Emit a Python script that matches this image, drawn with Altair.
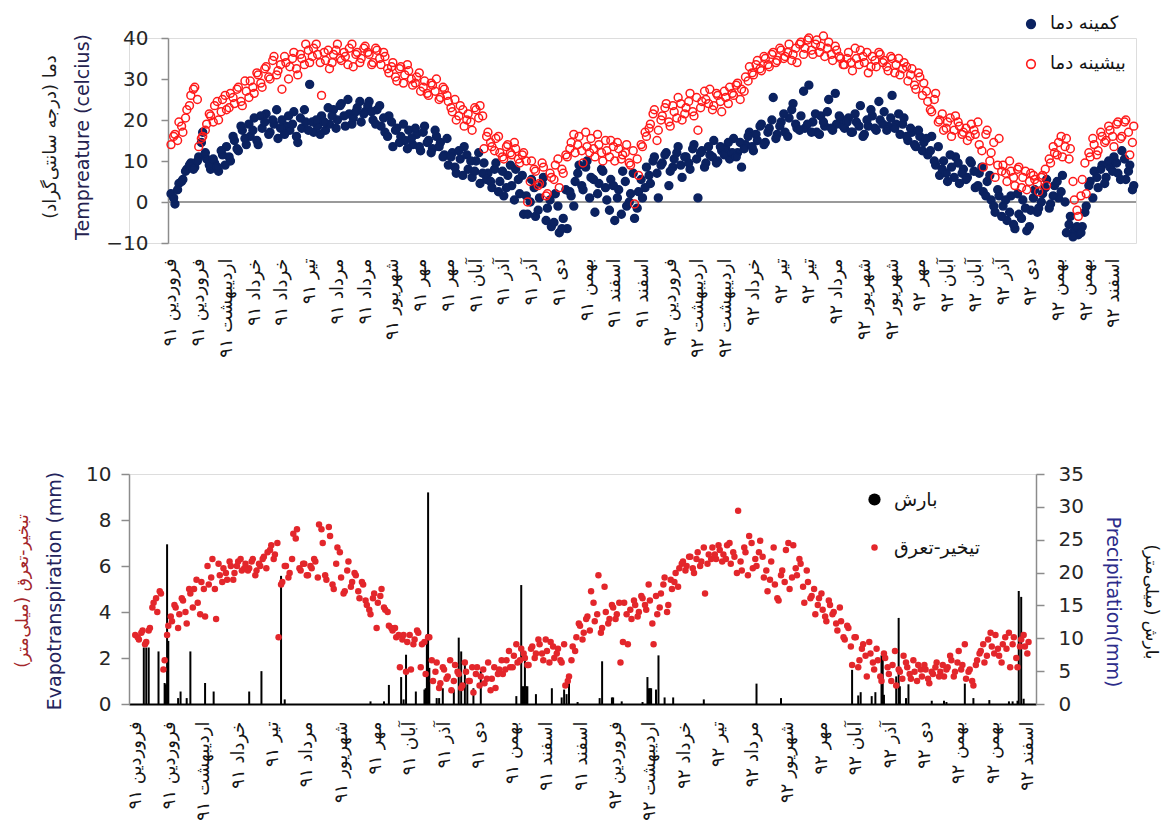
import json

import altair as alt
import pandas as pd

# Daily series, day 0 = 1 Farvardin 1391.  Each quantity is kept as two
# interleaved samplings: *_0 on days 0, 3, 6, ... and *_2 on days 2, 5, 8, ...
STEP = 3

TMIN_LABEL = "کمینه دما"
TMAX_LABEL = "بیشینه دما"
RAIN_LABEL = "بارش"
ET_LABEL = "تیخیر-تعرق"

# Minimum daily temperature (°C)
tmin_0 = [
    2.0, -0.5, 4.5, 5.5, 8.0, 9.5, 8.5, 11.0, 17.0, 10.5,
    8.0, 9.5, 7.5, 11.5, 13.5, 10.0, 15.0, 12.5, 17.5, 14.0,
    16.0, 20.5, 14.0, 18.0, 21.5, 17.0, 19.0, 15.5, 20.0, 18.5,
    17.5, 22.0, 14.5, 18.0, 19.5, 28.7, 17.0, 18.5, 21.0, 17.5,
    19.0, 22.5, 20.0, 24.0, 18.5, 21.5, 20.5, 23.0, 19.5, 22.0,
    24.5, 20.0, 22.5, 18.5, 17.0, 21.0, 13.5, 18.0, 16.0, 15.0,
    17.5, 14.0, 16.5, 12.5, 18.5, 15.0, 13.0, 16.0, 14.5, 11.5,
    9.0, 12.0, 7.0, 10.5, 13.5, 8.0, 6.0, 10.0, 4.5, 9.5,
    7.0, 3.5, 9.5, 5.0, 1.5, 6.5, 4.0, 8.0, 2.0, -3.0,
    -3.0, 5.5, -3.5, 1.0, 6.0, -1.5, -6.0, 2.0, -7.5, -4.0,
    -6.5, 1.5, 5.0, 9.0, 3.0, 10.0, 6.0, -2.5, 4.5, 7.5,
    0.5, 5.5, -4.5, 3.0, 7.5, -1.0, 2.0, -4.0, 2.5, 1.0,
    8.5, 4.5, 11.0, 1.0, 9.5, 12.0, 7.5, 10.5, 13.5, 6.0,
    11.0, 8.0, 14.0, 1.0, 12.5, 9.5, 11.5, 15.0, 10.0, 12.5,
    13.0, 10.5, 15.5, 12.0, 8.5, 14.0, 17.0, 12.5, 15.0, 19.0,
    14.5, 18.0, 25.5, 16.5, 19.5, 17.0, 20.5, 24.0, 18.0, 21.0,
    18.0, 28.5, 19.5, 17.0, 21.0, 18.5, 25.0, 17.5, 19.0, 20.5,
    18.0, 20.5, 17.0, 19.5, 23.5, 16.5, 18.5, 21.0, 17.5, 20.0,
    22.0, 18.5, 26.0, 19.0, 16.5, 20.5, 15.0, 17.0, 13.5, 16.0,
    14.5, 11.5, 16.0, 9.0, 6.5, 10.0, 5.0, 8.5, 11.0, 4.5,
    8.0, 6.0, 9.5, 3.5, 7.0, 2.5, 5.0, 0.5, -2.5, 1.5,
    -1.0, -4.5, 1.5, -6.5, -3.0, 0.5, -7.0, -2.0, 3.0, -1.5,
    2.0, 5.5, -0.5, 4.0, 1.0, 6.5, -7.5, -3.5, -7.0, -8.0,
    -6.0, -1.0, 5.0, 7.5, 3.5, 9.0, 6.0, 8.5, 11.0, 7.0,
    12.5, 5.5, 9.0, 4.0,
]
tmin_2 = [
    1.0, 3.0, 5.0, 7.5, 9.0, 8.0, 10.0, 14.5, 12.0, 9.0,
    10.5, 8.5, 12.5, 9.0, 11.0, 16.0, 13.0, 18.5, 15.5, 19.0,
    17.5, 15.0, 21.0, 19.5, 16.5, 20.0, 22.5, 18.0, 16.5, 21.0,
    19.0, 16.0, 20.5, 22.5, 17.5, 19.5, 20.0, 16.5, 19.5, 23.0,
    21.0, 18.0, 23.5, 21.0, 25.0, 19.0, 22.0, 24.5, 21.5, 23.5,
    22.0, 19.0, 23.5, 20.5, 16.0, 19.5, 17.5, 14.5, 19.0, 13.0,
    15.5, 18.0, 13.5, 17.0, 14.5, 12.0, 17.5, 13.5, 11.0, 15.5,
    11.0, 8.5, 12.5, 6.5, 11.5, 10.0, 7.5, 12.0, 7.0, 5.5,
    5.0, 8.0, 2.5, 7.5, 3.5, 9.0, 0.5, 5.5, 6.5, 1.5,
    0.0, 3.5, -2.0, 4.5, -4.5, 0.5, -5.0, -1.0, -6.5, 3.0,
    2.5, -1.0, 7.0, 4.0, 8.5, 1.0, 5.5, 2.0, 8.0, 3.5,
    -2.0, 4.0, 1.0, -3.0, 5.0, 0.0, 7.0, -1.5, 5.5, 3.5,
    6.5, 10.0, 7.0, 9.0, 11.5, 4.0, 8.5, 12.0, 9.0, 11.0,
    9.5, 13.0, 10.5, 12.0, 8.5, 13.5, 11.0, 9.5, 13.5, 11.5,
    14.5, 12.0, 11.0, 14.5, 13.0, 16.0, 13.5, 16.5, 18.5, 14.0,
    17.0, 20.0, 15.5, 18.5, 21.5, 16.0, 22.5, 19.0, 17.5, 27.0,
    19.0, 17.0, 21.5, 16.5, 19.5, 22.0, 18.0, 26.5, 21.0, 18.5,
    19.5, 17.0, 21.5, 18.5, 16.0, 20.0, 22.5, 18.0, 24.5, 19.0,
    17.5, 20.5, 18.0, 21.5, 19.0, 16.0, 18.0, 14.0, 17.5, 12.5,
    15.5, 12.5, 10.0, 13.5, 8.0, 7.0, 11.5, 6.0, 9.5, 7.0,
    5.5, 10.0, 7.5, 4.0, 8.5, 1.5, 6.5, -1.0, 3.0, -3.5,
    0.5, -2.5, -5.5, 2.0, -4.0, -1.5, -6.0, 1.0, -2.5, 0.0,
    3.5, -1.5, 1.5, 5.0, 2.5, 0.0, -5.5, -8.5, -6.0, -7.5,
    -2.5, 4.0, 1.0, 6.0, 8.0, 4.5, 10.0, 7.5, 9.5, 5.5,
    10.5, 7.5, 3.0,
]

# Maximum daily temperature (°C)
tmax_0 = [
    14.0, 16.5, 19.5, 17.0, 22.5, 26.0, 28.0, 13.5, 16.0, 19.0,
    21.0, 23.5, 20.0, 25.0, 22.5, 26.5, 24.0, 28.0, 23.5, 27.0,
    29.5, 26.5, 31.0, 28.0, 33.0, 30.0, 35.5, 32.0, 27.5, 34.0,
    33.0, 36.5, 31.0, 35.0, 38.5, 34.0, 37.5, 36.0, 26.0, 34.5,
    32.5, 36.0, 38.5, 34.5, 35.5, 37.5, 33.0, 36.5, 35.0, 38.0,
    36.0, 34.0, 37.0, 33.5, 35.5, 31.5, 34.0, 29.5, 33.0, 31.0,
    32.0, 28.5, 30.5, 27.0, 29.5, 26.0, 28.5, 30.0, 25.5, 27.5,
    24.5, 22.0, 20.0, 23.5, 18.5, 21.5, 17.5, 22.5, 23.5, 13.0,
    17.0, 13.5, 15.5, 12.0, 10.5, 14.0, 11.5, 13.0, 9.5, 12.0,
    0.0, 10.0, 7.5, 4.5, 8.5, 2.0, 6.0, 9.0, 3.5, 7.0,
    11.0, 14.5, 12.0, 16.0, 9.5, 13.5, 15.5, 11.0, 14.0, 10.0,
    12.5, 15.0, 10.0, 13.0, 11.5, 14.0, 9.0, -0.5, 6.5, 13.5,
    16.0, 19.0, 22.5, 17.5, 21.0, 24.0, 18.5, 22.0, 25.5, 20.0,
    23.0, 26.5, 21.0, 17.5, 24.5, 25.0, 27.5, 23.5, 26.0, 22.0,
    25.5, 28.0, 26.0, 29.0, 27.5, 30.5, 33.0, 31.0, 34.5, 32.0,
    35.0, 33.0, 36.5, 34.5, 37.0, 35.5, 38.5, 36.0, 34.0, 39.0,
    37.5, 40.0, 36.0, 39.5, 38.0, 35.5, 39.0, 34.5, 37.0, 35.0,
    33.5, 36.5, 32.0, 35.0, 37.0, 34.0, 31.5, 35.5, 33.0, 36.0,
    34.5, 32.0, 35.0, 33.5, 31.0, 34.0, 29.5, 32.5, 27.5, 30.5,
    29.0, 24.5, 22.0, 26.5, 20.0, 17.5, 19.5, 16.0, 21.0, 18.5,
    17.0, 15.0, 19.0, 16.5, 14.0, 8.5, 17.5, 12.0, 6.0, 15.5,
    9.0, 5.0, 7.5, 4.0, 8.5, 6.0, 3.0, 7.0, 5.5, 2.5,
    6.5, 4.0, 9.5, 12.0, 14.5, 11.0, 15.5, 13.0, 0.5, -3.5,
    5.5, 2.0, 11.0, 14.0, 12.5, 16.0, 15.0, 17.5, 13.5, 19.5,
    16.0, 20.0, 11.5, 18.5,
]
tmax_2 = [
    16.0, 15.0, 18.5, 20.5, 23.5, 27.5, 25.0, 15.5, 17.5, 21.5,
    19.5, 24.5, 22.0, 26.0, 23.0, 25.5, 27.5, 24.5, 29.5, 25.5,
    28.0, 31.5, 29.0, 32.5, 30.5, 34.5, 31.0, 33.5, 35.5, 30.0,
    35.0, 32.5, 36.0, 33.5, 37.0, 35.5, 38.5, 34.0, 36.5, 37.0,
    34.0, 37.0, 35.0, 36.5, 33.5, 38.5, 36.0, 34.0, 37.5, 36.5,
    33.5, 37.5, 35.0, 36.5, 32.5, 33.0, 30.5, 32.5, 29.0, 33.5,
    30.0, 29.0, 31.5, 28.0, 26.5, 29.0, 27.0, 25.0, 28.0, 26.0,
    23.0, 25.0, 21.0, 22.5, 20.0, 19.5, 23.0, 20.5, 21.0, 16.0,
    14.5, 12.5, 16.0, 11.0, 13.5, 12.0, 14.5, 10.5, 11.5, 10.0,
    5.0, 8.0, 4.0, 9.5, 1.5, 7.0, 5.5, 10.5, 8.0, 11.5,
    13.0, 16.5, 14.0, 12.5, 17.0, 12.0, 13.0, 16.5, 12.0, 15.0,
    11.0, 13.5, 14.5, 10.5, 12.0, 9.5, 12.5, 10.5, 14.0, 17.0,
    18.0, 21.5, 15.0, 20.0, 23.0, 19.5, 23.5, 20.5, 24.0, 21.5,
    24.5, 22.0, 25.5, 23.0, 27.0, 24.0, 22.5, 26.5, 24.5, 27.0,
    24.0, 26.5, 28.5, 25.0, 27.0, 29.5, 31.5, 33.5, 32.5, 35.5,
    33.5, 36.0, 34.0, 37.5, 35.0, 36.5, 34.5, 37.5, 38.5, 36.0,
    39.5, 37.0, 38.5, 36.5, 40.5, 37.5, 36.0, 38.0, 35.5, 33.5,
    35.0, 34.0, 37.5, 33.5, 35.5, 36.5, 33.0, 34.5, 36.5, 34.0,
    33.0, 35.5, 31.5, 35.0, 32.5, 33.0, 31.0, 28.5, 31.5, 26.0,
    27.0, 22.5, 25.0, 19.5, 21.5, 18.0, 20.5, 17.5, 19.5, 16.5,
    18.0, 16.0, 17.5, 19.5, 12.5, 16.5, 10.0, 14.5, 9.0, 7.5,
    7.0, 10.0, 6.0, 8.0, 3.5, 7.5, 5.0, 6.5, 4.5, 6.0,
    8.0, 10.5, 13.5, 11.5, 16.0, 13.5, 10.5, 5.0, -2.0, 1.5,
    9.5, 12.0, 15.5, 11.5, 17.0, 14.5, 18.5, 16.0, 19.0, 15.5,
    19.5, 17.0, 14.5,
]

# Reference evapotranspiration (mm/day)
et_0 = [
    3.0, 2.8, 3.2, 2.7, 3.3, 4.4, 4.0, 4.8, 1.9, 3.4,
    3.6, 4.2, 3.9, 4.5, 3.5, 4.8, 5.0, 4.4, 5.3, 3.8,
    5.2, 6.3, 3.7, 5.6, 5.9, 5.4, 6.0, 5.7, 6.2, 5.8,
    6.1, 5.9, 6.3, 5.8, 6.0, 6.4, 6.6, 6.9, 6.5, 2.9,
    5.3, 6.0, 5.7, 7.4, 7.6, 5.8, 6.1, 5.6, 5.9, 6.2,
    7.8, 7.0, 5.4, 7.3, 5.0, 6.8, 5.5, 4.9, 6.2, 5.3,
    5.6, 4.6, 5.2, 4.3, 3.9, 4.8, 4.4, 5.0, 4.1, 3.4,
    3.2, 2.9, 1.6, 3.0, 2.7, 1.5, 2.8, 3.1, 2.6, 1.3,
    2.9, 1.0, 1.8, 0.9, 1.5, 1.2, 0.6, 1.7, 1.3, 0.8,
    1.4, 1.0, 0.5, 1.6, 1.2, 0.9, 1.8, 1.1, 0.7, 1.5,
    1.3, 1.9, 1.6, 2.1, 1.8, 2.4, 2.0, 1.7, 2.5, 2.2,
    2.6, 1.9, 2.3, 2.7, 2.0, 2.4, 1.8, 0.8, 1.2, 2.5,
    2.9, 3.4, 3.1, 3.8, 4.9, 3.6, 5.6, 3.3, 4.0, 3.7,
    4.2, 3.9, 1.8, 4.4, 2.6, 3.7, 4.3, 4.0, 4.6, 4.1,
    4.5, 2.6, 3.9, 4.8, 5.5, 4.3, 5.0, 5.7, 5.9, 6.2,
    6.0, 6.4, 5.7, 6.6, 6.2, 4.8, 6.5, 6.8, 6.3, 6.7,
    6.5, 6.9, 6.1, 6.4, 8.4, 5.8, 6.6, 7.3, 5.9, 6.0,
    7.1, 5.5, 4.9, 6.2, 5.2, 4.5, 5.8, 6.7, 5.0, 6.9,
    5.6, 6.1, 4.4, 5.3, 4.7, 3.9, 4.6, 4.1, 3.6, 4.3,
    4.0, 3.2, 3.6, 2.8, 3.3, 1.7, 2.9, 1.9, 2.6, 1.2,
    2.2, 1.5, 1.9, 1.0, 2.0, 1.3, 1.7, 0.8, 1.4, 2.1,
    1.6, 1.1, 1.4, 1.7, 1.2, 1.5, 0.9, 1.3, 1.8, 1.4,
    1.2, 1.6, 1.9, 1.4, 2.3, 1.7, 1.1, 1.5, 0.8, 1.9,
    2.3, 1.8, 2.8, 2.5, 3.0, 2.1, 2.6, 2.4, 1.6, 2.9,
    1.6, 2.8, 2.5, 2.7,
]
et_2 = [
    2.9, 3.1, 2.6, 3.2, 4.2, 4.6, 4.9, 1.5, 3.0, 3.8,
    4.3, 3.3, 4.6, 4.0, 5.0, 4.2, 5.4, 3.9, 5.0, 6.0,
    5.5, 5.0, 6.1, 5.3, 5.7, 6.2, 5.4, 6.0, 6.3, 5.9,
    5.8, 6.2, 5.6, 6.1, 6.3, 5.9, 6.7, 6.3, 7.0, 5.2,
    6.0, 5.5, 6.3, 7.2, 5.9, 6.1, 5.6, 6.0, 6.3, 5.5,
    7.6, 5.6, 7.7, 5.2, 6.1, 6.6, 4.8, 5.8, 5.1, 5.7,
    4.9, 5.3, 4.5, 4.1, 4.6, 3.3, 4.7, 4.2, 4.0, 3.3,
    3.3, 3.0, 2.8, 1.4, 3.0, 2.6, 3.2, 1.6, 2.7, 2.9,
    1.9, 1.4, 0.7, 1.6, 1.1, 1.9, 1.0, 1.4, 0.7, 1.8,
    1.0, 1.6, 1.3, 0.8, 1.5, 1.1, 0.6, 1.6, 1.3, 1.9,
    1.5, 2.3, 1.6, 2.6, 1.9, 2.2, 1.7, 2.4, 2.0, 2.8,
    2.2, 2.8, 1.8, 2.5, 2.2, 1.9, 2.6, 1.0, 1.9, 2.3,
    3.5, 2.8, 3.7, 3.2, 4.4, 3.9, 3.1, 5.1, 3.5, 4.3,
    3.7, 4.4, 2.7, 3.9, 4.1, 4.5, 3.8, 4.7, 4.3, 5.2,
    3.5, 4.7, 4.2, 5.2, 4.0, 5.4, 5.3, 5.1, 6.1, 5.8,
    6.4, 5.9, 6.3, 6.0, 6.8, 6.1, 6.3, 6.5, 6.9, 6.2,
    6.3, 7.0, 6.6, 5.7, 6.2, 6.8, 5.6, 7.0, 6.3, 6.6,
    6.4, 5.8, 5.4, 6.8, 4.6, 5.6, 5.3, 7.0, 5.5, 5.9,
    6.3, 5.1, 5.8, 4.6, 5.0, 4.3, 4.8, 3.8, 4.5, 3.9,
    3.5, 4.2, 2.9, 3.4, 2.5, 2.9, 1.6, 2.4, 2.1, 2.7,
    1.8, 2.4, 1.2, 2.2, 1.6, 1.0, 2.3, 1.5, 1.1, 1.8,
    1.3, 1.9, 1.0, 1.5, 1.7, 1.1, 1.4, 1.6, 1.2, 1.7,
    1.5, 2.1, 1.2, 1.8, 1.5, 2.6, 1.4, 1.0, 1.7, 2.2,
    2.6, 2.1, 3.1, 2.2, 2.4, 1.8, 2.9, 3.1, 2.6, 2.0,
    2.5, 3.0, 2.2,
]

# Rainy days: day index and precipitation (mm)
precip_day = [
    7, 9, 11, 19, 24, 25, 26, 27, 35, 37, 42, 45, 57, 64, 93, 103, 119, 122,
    192, 203, 207, 217, 219, 221, 229, 236, 237, 238, 239, 240, 246, 248, 251,
    260, 264, 266, 269, 271, 276, 282, 311, 315, 316, 317, 318, 319, 320, 327,
    340, 348, 350, 352, 354, 361, 379, 381, 389, 390, 397, 414, 418, 419, 420,
    421, 425, 427, 432, 439, 464, 507, 527, 585, 590, 592, 601, 604, 609, 610,
    611, 621, 623, 624, 629, 631, 650, 660, 662, 677, 684, 697, 713, 716, 720,
    721, 723, 725,
]
precip_mm = [
    8.6, 8.6, 8.6, 8.0, 3.2, 3.0, 24.3, 9.6, 0.9, 1.9, 0.9, 8.0, 3.2, 1.9, 1.9, 5.0, 19.5, 0.7,
    0.4, 0.4, 2.9, 4.1, 0.7, 7.5, 1.9, 2.2, 2.4, 10.6, 32.2, 5.5, 0.9, 0.9, 2.4,
    2.2, 10.1, 8.0, 6.0, 3.0, 2.4, 5.0, 1.2, 18.1, 2.7, 2.7, 7.0, 2.7, 2.7, 1.5,
    2.4, 1.0, 2.2, 1.5, 3.5, 0.3, 0.9, 6.5, 1.0, 1.0, 0.4, 0.3, 4.1, 2.4, 2.4,
    2.4, 2.2, 7.4, 1.0, 1.0, 0.7, 3.1, 0.9, 5.2, 1.3, 1.8, 1.2, 1.8, 7.4, 7.4,
    1.4, 4.2, 13.1, 2.7, 0.9, 3.0, 0.5, 0.5, 0.3, 3.1, 0.9, 0.6, 0.4, 0.4, 0.5,
    17.2, 16.3, 0.8,
]

# Month names shown under the two date axes
top_tick_step = 21
top_labels = [
    "فروردین ۹۱", "فروردین ۹۱", "اردیبهشت ۹۱", "خرداد ۹۱", "خرداد ۹۱", "تیر ۹۱",
    "مرداد ۹۱", "مرداد ۹۱", "شهریور ۹۱", "مهر ۹۱", "مهر ۹۱", "آبان ۹۱", "آذر ۹۱",
    "آذر ۹۱", "دی ۹۱", "بهمن ۹۱", "اسفند ۹۱", "اسفند ۹۱", "فروردین ۹۲",
    "اردیبهشت ۹۲", "اردیبهشت ۹۲", "خرداد ۹۲", "تیر ۹۲", "تیر ۹۲", "مرداد ۹۲",
    "شهریور ۹۲", "شهریور ۹۲", "مهر ۹۲", "آبان ۹۲", "آبان ۹۲", "آذر ۹۲", "دی ۹۲",
    "بهمن ۹۲", "بهمن ۹۲", "اسفند ۹۲",
]
bottom_tick_step = 28
bottom_labels = [
    "فروردین ۹۱", "فروردین ۹۱", "اردیبهشت ۹۱", "خرداد ۹۱", "تیر ۹۱", "مرداد ۹۱",
    "شهریور ۹۱", "مهر ۹۱", "آبان ۹۱", "آذر ۹۱", "دی ۹۱", "بهمن ۹۱", "اسفند ۹۱",
    "اسفند ۹۱", "فروردین ۹۲", "اردیبهشت ۹۲", "خرداد ۹۲", "تیر ۹۲", "مرداد ۹۲",
    "شهریور ۹۲", "مهر ۹۲", "آبان ۹۲", "آذر ۹۲", "دی ۹۲", "بهمن ۹۲", "بهمن ۹۲",
    "اسفند ۹۲",
]

FONT = "DejaVu Sans"
NAVY = "#0b2260"
RED = "#ff1a1a"
ET_RED = "#e3262b"
AXIS_GREY = "#8c8c8c"


def sample_days(values, phase):
    return [STEP * i + phase for i in range(len(values))]


temp_df = pd.DataFrame({
    "day": sample_days(tmin_0, 0) + sample_days(tmin_2, 2) + sample_days(tmax_0, 0) + sample_days(tmax_2, 2),
    "temp": tmin_0 + tmin_2 + tmax_0 + tmax_2,
    "series": [TMIN_LABEL] * (len(tmin_0) + len(tmin_2)) + [TMAX_LABEL] * (len(tmax_0) + len(tmax_2)),
})
et_df = pd.DataFrame({
    "day": sample_days(et_0, 0) + sample_days(et_2, 2),
    "et": et_0 + et_2,
    "series": ET_LABEL,
})
rain_df = pd.DataFrame({"day": precip_day, "mm": precip_mm})


def date_axis(labels, step, pad, size, domain):
    expr = json.dumps(labels, ensure_ascii=False) + f"[round(datum.value / {step})]"
    return alt.Axis(
        values=[i * step for i in range(len(labels))], labelExpr=expr,
        labelAngle=270, labelAlign="right", labelBaseline="middle",
        labelFontSize=size, labelFont=FONT, labelColor="#141414", labelPadding=pad,
        labelOverlap=False, labelFlush=False, labelBound=False,
        grid=False, ticks=False, title=None,
        domain=domain, domainColor="black", domainWidth=2,
    )


def value_axis(values, orient, tick, pad, offset=0):
    return alt.Axis(
        values=values, orient=orient, grid=False, title=None, offset=offset,
        labelFontSize=20, labelFont=FONT, labelColor="#262626", labelPadding=pad,
        domainColor=AXIS_GREY, domainWidth=1.5, tickColor=AXIS_GREY, tickWidth=1.5, tickSize=tick,
    )


def label(text, x, y, angle, color, size):
    return alt.Chart(pd.DataFrame({"t": [text]})).mark_text(
        angle=angle, color=color, fontSize=size, font=FONT, align="center", baseline="middle"
    ).encode(x=alt.value(x), y=alt.value(y), text="t:N")


# ---- temperature panel ----
# Both panels share a left origin; the temperature scale starts before day 0
# so that its value axis (pulled inwards) sits at the start of the record.
TOP_START, TOP_END = -2.3, 730.7
x_top = alt.X("day:Q", scale=alt.Scale(domain=[-31.8, TOP_END], nice=False, zero=False),
              axis=date_axis(top_labels, top_tick_step, 15, 18, False))
y_scale_top = alt.Scale(domain=[-10, 40], nice=False)
y_top = alt.Y("temp:Q", scale=y_scale_top, axis=value_axis([-10, 0, 10, 20, 30, 40], "left", 7, 13, -39))

zero_line = alt.Chart(pd.DataFrame({"temp": [0], "day": [TOP_START], "day_end": [TOP_END]})).mark_rule(
    color="#9a9a9a", strokeWidth=2).encode(x=x_top, x2="day_end:Q", y=y_top)

temp_legend = alt.Legend(title=None, orient="none", legendX=893, legendY=-23, padding=0,
                         labelFontSize=18, labelFont=FONT, labelColor="#141414",
                         symbolSize=75, symbolStrokeWidth=1.6, rowPadding=22, labelOffset=10)
temp_points = alt.Chart(temp_df).mark_point(shape="circle", size=62, strokeWidth=1.5, opacity=1).encode(
    x=x_top, y=y_top,
    stroke=alt.Stroke("series:N", scale=alt.Scale(domain=[TMIN_LABEL, TMAX_LABEL], range=[NAVY, RED]),
                      legend=temp_legend),
    fill=alt.Fill("series:N", scale=alt.Scale(domain=[TMIN_LABEL, TMAX_LABEL], range=[NAVY, "transparent"]),
                  legend=temp_legend),
)

top = alt.layer(
    zero_line, temp_points,
    label("دما (درجه سانتی‌گراد)", -78, 99, 270, "#1c1c1c", 18),
    label("Tempreature (celcius)", -46, 99, 270, "#25224f", 19),
).properties(width=1007, height=205)

# ---- water balance panel ----
x_bot = alt.X("day:Q", scale=alt.Scale(domain=[-1, 731], nice=False, zero=False),
              axis=date_axis(bottom_labels, bottom_tick_step, 17, 18, True))

rain_bars = alt.Chart(rain_df).mark_bar(size=2, color="black").encode(
    x=x_bot,
    y=alt.Y("mm:Q", scale=alt.Scale(domain=[0, 35], nice=False),
            axis=value_axis(list(range(0, 36, 5)), "right", 8, 14)),
)

# legends of the concatenated view are placed relative to the upper panel's origin
series_domain = [RAIN_LABEL, ET_LABEL]
et_legend = alt.Legend(title=None, orient="none", legendX=736, legendY=452, padding=0,
                       labelFontSize=19, labelFont=FONT, labelColor="#141414",
                       rowPadding=28, labelOffset=10)
et_points = alt.Chart(et_df).mark_circle(opacity=1).encode(
    x=x_bot,
    y=alt.Y("et:Q", scale=alt.Scale(domain=[0, 10], nice=False),
            axis=value_axis([0, 2, 4, 6, 8, 10], "left", 8, 10)),
    color=alt.Color("series:N", scale=alt.Scale(domain=series_domain, range=["black", ET_RED]), legend=et_legend),
    shape=alt.Shape("series:N", scale=alt.Scale(domain=series_domain, range=["square", "circle"]), legend=et_legend),
    size=alt.Size("series:N", scale=alt.Scale(domain=series_domain, range=[150, 42]), legend=et_legend),
)

# invisible mark fixing the left extent of the lower panel
left_edge = alt.Chart(pd.DataFrame({"v": [0]})).mark_rule(opacity=0).encode(
    x=alt.value(-127), x2=alt.value(-126), y=alt.value(40), y2=alt.value(41))

bottom = alt.layer(
    left_edge, rain_bars, et_points,
    label("تبخیر-تعرق (میلی‌متر)", -106, 117, 270, "#a3262a", 17),
    label("Evapotranspiration (mm)", -74, 117, 270, "#23235c", 19),
    label("Precipitation(mm)", 984, 128, 90, "#2c2c8a", 19),
    label("بارش (میلی‌متر)", 1022, 128, 90, "#141414", 17),
).resolve_scale(y="independent").properties(width=907, height=230)

chart = alt.vconcat(top, bottom, spacing=105).properties(
    padding={"left": 1, "top": 15, "right": 0, "bottom": 0}
).configure_view(stroke=None).configure(font=FONT)

chart.save("out.html", embed_options={"renderer": "svg", "actions": False})
